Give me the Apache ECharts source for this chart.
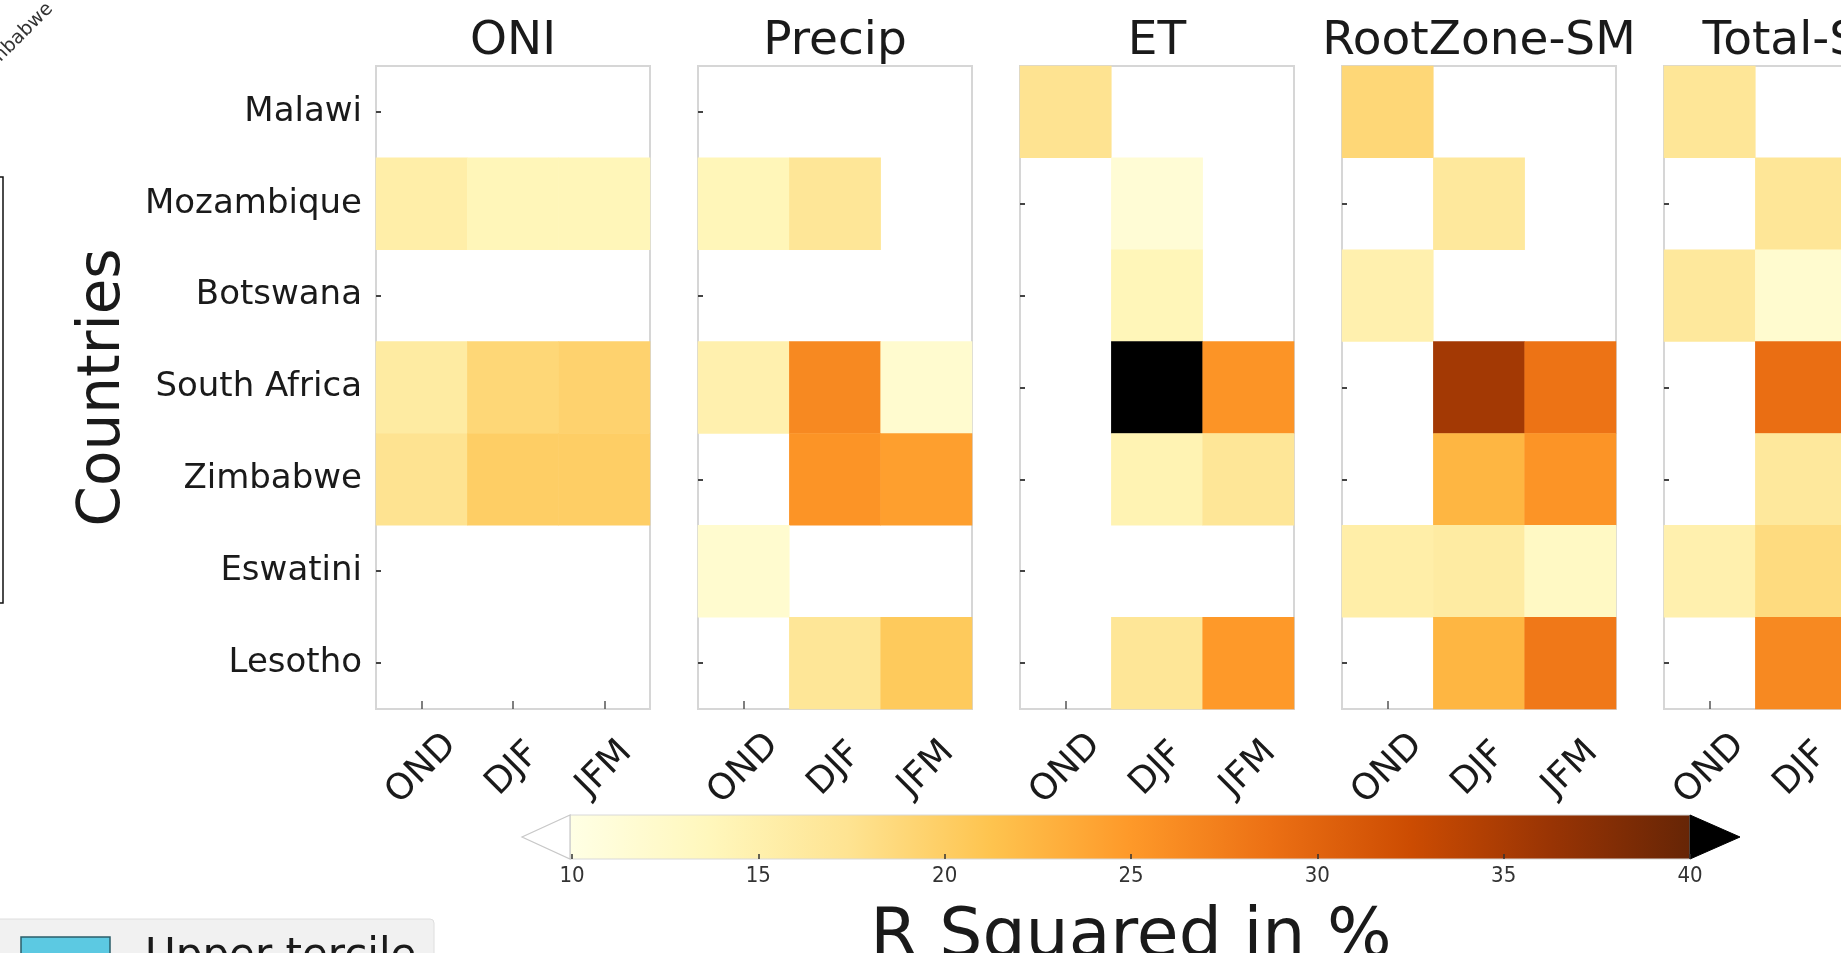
<!DOCTYPE html>
<html>
<head>
<meta charset="utf-8">
<script src="https://cdn.jsdelivr.net/npm/echarts@6/dist/echarts.min.js"></script>
<style>html,body{margin:0;padding:0;background:#fff}#c{width:1841px;height:953px}</style>
</head>
<body>
<div id="c"></div>
<script>
// ---------- data ----------
const countries = ['Malawi', 'Mozambique', 'Botswana', 'South Africa', 'Zimbabwe', 'Eswatini', 'Lesotho'];
const seasons = ['OND', 'DJF', 'JFM'];
const panelTitles = ['ONI', 'Precip', 'ET', 'RootZone-SM', 'Total-SM'];
// R squared (%) per country row, columns OND / DJF / JFM; null = not shown
const oniValues = [
  [null, null, null],
  [15.5, 14, 14],
  [null, null, null],
  [16, 19, 19.5],
  [17.5, 20, 20],
  [null, null, null],
  [null, null, null]
];
const precipValues = [
  [null, null, null],
  [14, 17, null],
  [null, null, null],
  [15, 26.5, 12],
  [null, 25.5, 24.5],
  [12, null, null],
  [null, 17, 20.5]
];
const etValues = [
  [17.5, null, null],
  [null, 11.5, null],
  [null, 14, null],
  [null, 44, 25.5],
  [null, 14.5, 17],
  [null, null, null],
  [null, 17, 25]
];
const rootZoneValues = [
  [19, null, null],
  [null, 16.5, null],
  [15, null, null],
  [null, 35.5, 28.5],
  [null, 22.5, 25.5],
  [15.5, 16, 13],
  [null, 22.5, 28]
];
const totalSMValues = [
  [17, null, null],
  [null, 17, null],
  [16.5, 12, null],
  [null, 29, null],
  [null, 16.5, null],
  [15, 18.5, null],
  [null, 26.5, null]
];
const colorbarMin = 10, colorbarMax = 40, colorbarStep = 5;

// ---------- styling ----------
const FONT = '"DejaVu Sans", "Noto Sans", sans-serif';
const FONT_COND = '"DejaVu Sans Condensed", "DejaVu Sans", sans-serif';
const TXT = '#1a1a1a';
const YlOrBr = ['#ffffe5', '#fff7bc', '#fee391', '#fec44f', '#fe9929', '#ec7014', '#cc4c02', '#993404', '#662506'];
const overColor = '#000000';

const panels = [oniValues, precipValues, etValues, rootZoneValues, totalSMValues];
const L0 = 376, STEP = 322, W = 274, TOP = 66, H = 643;

const grids = [], xAxes = [], yAxes = [], series = [], graphics = [];
panels.forEach((vals, i) => {
  const left = L0 + i * STEP;
  grids.push({left: left, top: TOP, width: W, height: H, show: true,
    outerBoundsMode: 'none', containLabel: false,
    borderColor: '#d6d6d6', borderWidth: 2, backgroundColor: '#fff'});
  xAxes.push({
    type: 'category', gridIndex: i, data: seasons, position: 'bottom',
    axisLine: {show: false},
    axisTick: {show: true, inside: true, alignWithLabel: true, length: 8, lineStyle: {color: '#555', width: 1.5}},
    axisLabel: {rotate: 45, align: 'center', verticalAlign: 'middle', margin: 60,
      fontSize: 36, fontFamily: FONT, color: TXT, hideOverlap: false},
    splitLine: {show: false}
  });
  yAxes.push({
    type: 'category', gridIndex: i, data: countries, inverse: true,
    axisLine: {show: false},
    axisTick: {show: true, inside: true, alignWithLabel: true, length: 5, lineStyle: {color: '#444', width: 2}},
    axisLabel: {show: i === 0, fontSize: 34, fontFamily: FONT, color: TXT, margin: 14},
    splitLine: {show: false},
    name: i === 0 ? 'Countries' : '', nameLocation: 'middle', nameGap: 243, nameRotate: 90,
    nameTextStyle: {fontSize: 58, fontFamily: FONT, color: TXT}
  });
  const data = [];
  vals.forEach((row, r) => row.forEach((v, c) => { if (v !== null) data.push([c, r, v]); }));
  series.push({type: 'heatmap', xAxisIndex: i, yAxisIndex: i, data: data,
    emphasis: {disabled: true}, itemStyle: {borderWidth: 0}});
  graphics.push({type: 'text', x: left + W / 2, y: 18,
    style: {text: panelTitles[i], fontSize: 47, fontFamily: FONT, fill: TXT, align: 'center', verticalAlign: 'top'}});
});

// colorbar axis (grid 5)
const CB_L = 572, CB_W = 1118, CB_T = 815, CB_H = 44;
grids.push({left: CB_L, top: CB_T, width: CB_W, height: CB_H, show: false, outerBoundsMode: 'none', containLabel: false});
xAxes.push({
  type: 'value', gridIndex: 5, min: colorbarMin, max: colorbarMax, interval: colorbarStep, z: 10,
  axisLine: {show: false},
  axisTick: {show: true, inside: true, length: 5, lineStyle: {color: '#333', width: 1.5}},
  axisLabel: {margin: 6, fontSize: 22, fontFamily: FONT_COND, color: '#333'},
  splitLine: {show: false},
  name: 'R Squared in %', nameLocation: 'middle', nameGap: 45,
  nameTextStyle: {fontSize: 68, fontFamily: FONT, color: TXT, verticalAlign: 'top'}
});
yAxes.push({type: 'value', gridIndex: 5, show: false});

const stops = YlOrBr.map((c, k) => ({offset: k / (YlOrBr.length - 1), color: c}));
graphics.push(
  {type: 'rect', z: 1, shape: {x: CB_L - 2, y: CB_T, width: CB_W + 2, height: CB_H},
    style: {fill: new echarts.graphic.LinearGradient(0, 0, 1, 0, stops), stroke: '#d8d8d8', lineWidth: 1}},
  {type: 'polygon', z: 1, shape: {points: [[CB_L - 2, CB_T], [CB_L - 50, CB_T + CB_H / 2], [CB_L - 2, CB_T + CB_H]]},
    style: {fill: '#ffffff', stroke: '#c8c8c8', lineWidth: 1.2}},
  {type: 'polygon', z: 1, shape: {points: [[CB_L + CB_W, CB_T], [CB_L + CB_W + 50, CB_T + CB_H / 2], [CB_L + CB_W, CB_T + CB_H]]},
    style: {fill: overColor, stroke: overColor, lineWidth: 1}}
);

// remnants of neighbouring panels at the figure edges
graphics.push(
  {type: 'text', x: 50, y: 6, rotation: Math.PI / 4,
    style: {text: 'Zimbabwe', fontSize: 19, fontFamily: FONT, fill: '#333', align: 'right', verticalAlign: 'middle'}},
  {type: 'rect', shape: {x: -10, y: 177, width: 13, height: 426},
    style: {fill: 'none', stroke: '#111', lineWidth: 1.5}},
  {type: 'rect', shape: {x: -6, y: 919, width: 440, height: 60, r: 4},
    style: {fill: '#f1f1f1', stroke: '#dedede', lineWidth: 1}},
  {type: 'rect', shape: {x: 21, y: 937, width: 89, height: 40},
    style: {fill: '#5cc9e2', stroke: '#2b5d69', lineWidth: 1.5}},
  {type: 'text', x: 145, y: 936,
    style: {text: 'Upper tercile', fontSize: 42, fontFamily: FONT, fill: TXT, align: 'left', verticalAlign: 'top'}}
);

const option = {
  backgroundColor: '#ffffff',
  animation: false,
  grid: grids,
  xAxis: xAxes,
  yAxis: yAxes,
  visualMap: {
    type: 'continuous', show: false,
    min: colorbarMin, max: colorbarMax + (colorbarMax - colorbarMin) / (YlOrBr.length - 1),
    seriesIndex: [0, 1, 2, 3, 4],
    inRange: {color: YlOrBr.concat([overColor])}
  },
  series: series,
  graphic: {elements: graphics}
};
const chart = echarts.init(document.getElementById('c'), null, {renderer: 'canvas'});
chart.setOption(option);
</script>
</body>
</html>
